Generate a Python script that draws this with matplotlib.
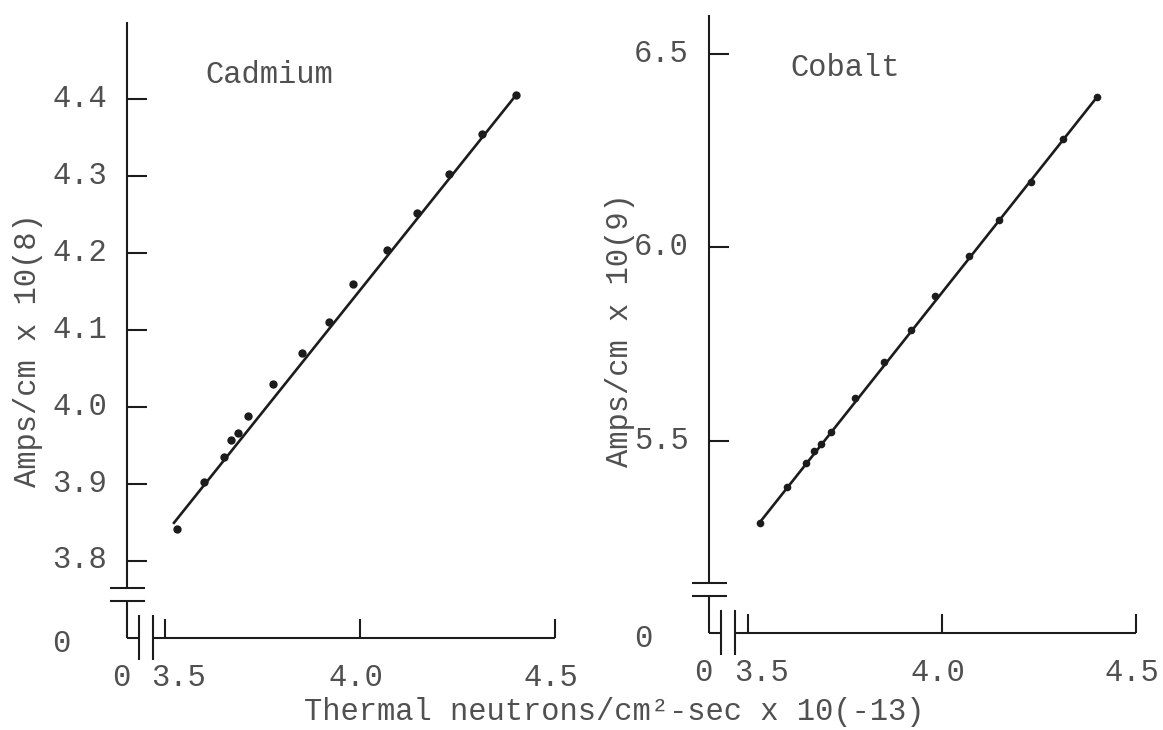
import matplotlib
matplotlib.use("Agg")
import matplotlib.pyplot as plt

plt.rcParams['font.family'] = ['Liberation Mono', 'DejaVu Sans']

# ---------------- data ----------------
flux = [3.530, 3.601, 3.650, 3.669, 3.688, 3.713, 3.776, 3.851, 3.921,
        3.983, 4.069, 4.147, 4.229, 4.312, 4.400]
cadmium = [3.841, 3.902, 3.935, 3.957, 3.966, 3.988, 4.030, 4.070, 4.110,
           4.160, 4.204, 4.252, 4.302, 4.354, 4.405]
cobalt = [5.288, 5.380, 5.443, 5.474, 5.490, 5.522, 5.610, 5.703, 5.785,
          5.873, 5.977, 6.071, 6.168, 6.279, 6.388]
cd_fit_x = [3.523, 4.400]
cd_fit_y = [3.849, 4.405]
co_fit_x = [3.530, 4.400]
co_fit_y = [5.288, 6.388]

x_ticks = [3.5, 4.0, 4.5]
x_tick_labels = ['3.5', '4.0', '4.5']
cd_y_ticks = [3.8, 3.9, 4.0, 4.1, 4.2, 4.3, 4.4]
cd_y_tick_labels = ['3.8', '3.9', '4.0', '4.1', '4.2', '4.3', '4.4']
co_y_ticks = [5.5, 6.0, 6.5]
co_y_tick_labels = ['5.5', '6.0', '6.5']

# ---------------- layout (pixels) ----------------
W, H = 1163, 730
TXT = '#505050'
INK = '#1c1c1c'
FS = 22

fig = plt.figure(figsize=(W / 100, H / 100), dpi=100)
fig.patch.set_facecolor('white')


def lin(v0, p0, v1, p1, q):
    return v0 + (q - p0) * (v1 - v0) / (p1 - p0)


panels = [
    dict(x=flux, y=cadmium, fx=cd_fit_x, fy=cd_fit_y, yt=cd_y_ticks, ytl=cd_y_tick_labels,
         title='Cadmium', ylabel='Amps/cm x 10(8)', ms=6.0,
         ax_left=127, ax_right=560, ax_top=22, ax_base=638,
         xa=(3.5, 165, 4.5, 555), ya=(4.4, 99, 3.8, 560.5),
         title_px=(78, 53), ylabel_px=(-99, 288)),
    dict(x=flux, y=cobalt, fx=co_fit_x, fy=co_fit_y, yt=co_y_ticks, ytl=co_y_tick_labels,
         title='Cobalt', ylabel='Amps/cm x 10(9)', ms=5.5,
         ax_left=709, ax_right=1141, ax_top=15, ax_base=633,
         xa=(3.5, 748, 4.5, 1136), ya=(6.5, 53.5, 5.5, 440.5),
         title_px=(81, 53), ylabel_px=(-89, 303)),
]

for p in panels:
    L, R, T, B = p['ax_left'], p['ax_right'], p['ax_top'], p['ax_base']
    w, h = R - L, B - T
    ax = fig.add_axes([L / W, 1 - B / H, w / W, h / H])
    xv0, xp0, xv1, xp1 = p['xa']
    yv0, yp0, yv1, yp1 = p['ya']
    xlim = (lin(xv0, xp0, xv1, xp1, L), lin(xv0, xp0, xv1, xp1, R))
    ylim = (lin(yv0, yp0, yv1, yp1, B), lin(yv0, yp0, yv1, yp1, T))
    ax.set_xlim(*xlim)
    ax.set_ylim(*ylim)
    ax.axis('off')

    def fx(px):
        return px / w

    def fy(py):
        return py / h

    def xpx(v):
        return (v - xlim[0]) / (xlim[1] - xlim[0]) * w

    def ypx(v):
        return (v - ylim[0]) / (ylim[1] - ylim[0]) * h

    def seg(x0, y0, x1, y1):
        ax.plot([fx(x0), fx(x1)], [fy(y0), fy(y1)], color=INK, lw=1.5,
                transform=ax.transAxes, clip_on=False, solid_capstyle='butt')

    # y axis with break
    seg(0, 50, 0, h)
    seg(-17, 50, 18, 50)
    seg(-17, 37, 18, 37)
    seg(0, 37, 0, 0)
    # x axis with break
    seg(0, 0, 12, 0)
    seg(12, -22, 12, 23)
    seg(26, -22, 26, 23)
    seg(26, 0, xpx(x_ticks[-1]), 0)
    for t in x_ticks:
        seg(xpx(t), 0, xpx(t), 19)
    for t in p['yt']:
        seg(0, ypx(t), 20, ypx(t))

    # tick labels
    for t, lab in zip(p['yt'], p['ytl']):
        ax.text(fx(-20), fy(ypx(t)), lab, transform=ax.transAxes, ha='right',
                va='center', fontsize=FS, color=TXT)
    for i, (t, lab) in enumerate(zip(x_ticks, x_tick_labels)):
        off = 13 if i == 0 else -4
        ax.text(fx(xpx(t) + off), fy(-40), lab, transform=ax.transAxes,
                ha='center', va='center', fontsize=FS, color=TXT)
    ax.text(fx(-6), fy(-40), '0', transform=ax.transAxes, ha='center',
            va='center', fontsize=FS, color=TXT)
    ax.text(fx(-66), fy(-6), '0', transform=ax.transAxes, ha='center',
            va='center', fontsize=FS, color=TXT)

    # titles and labels
    ax.text(fx(p['title_px'][0]), fy(h - p['title_px'][1]), p['title'],
            transform=ax.transAxes, ha='left', va='center', fontsize=FS, color=TXT)
    ax.text(fx(p['ylabel_px'][0]), fy(p['ylabel_px'][1]), p['ylabel'],
            transform=ax.transAxes, ha='center', va='center', rotation=90,
            fontsize=FS, color=TXT)

    # data
    ax.plot(p['fx'], p['fy'], '-', color=INK, lw=1.9, clip_on=False)
    ax.plot(p['x'], p['y'], 'o', color=INK, ms=p['ms'], mew=0, clip_on=False)

fig.text(614 / W, 1 - 712 / H, 'Thermal neutrons/cm²-sec x 10(-13)',
         ha='center', va='center', fontsize=FS, color=TXT)

fig.savefig('out.png', dpi=100, facecolor='white')
